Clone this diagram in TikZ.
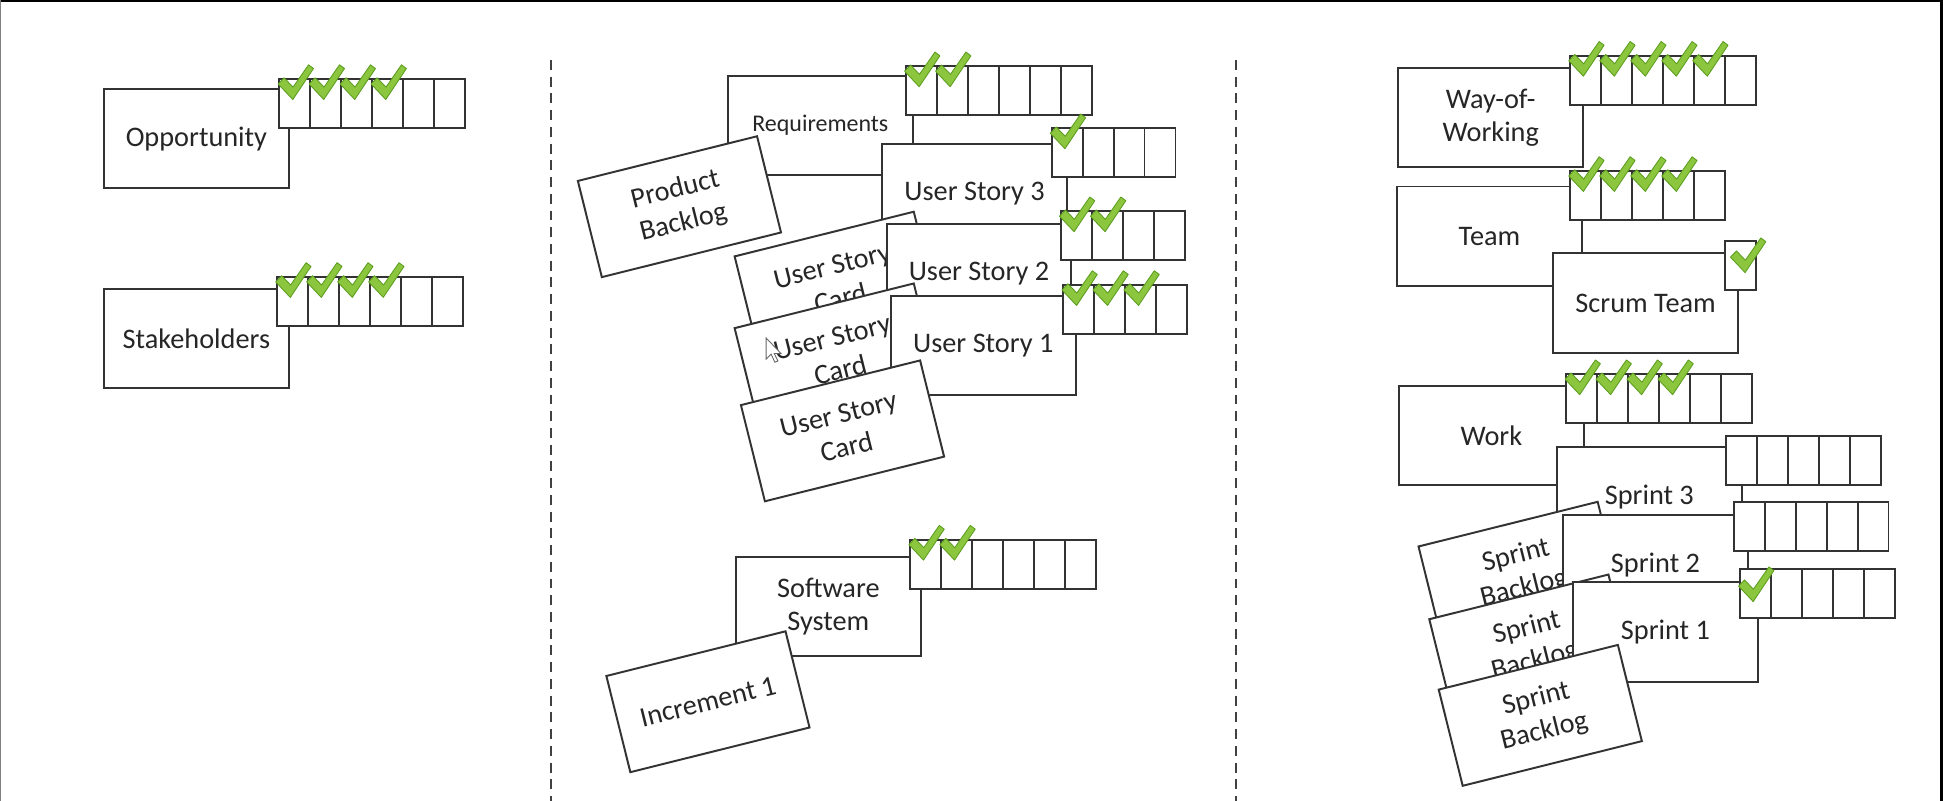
\documentclass[tikz,border=0pt]{standalone}
\usepackage{fontspec}
\setmainfont{Carlito}
\definecolor{chkgreen}{HTML}{8CC63F}
\definecolor{chkdark}{HTML}{5C9E1F}
\definecolor{linegray}{HTML}{333333}

% green tick, (#1,#2) is the top left corner of its cell
\newcommand{\chk}[2]{%
  \filldraw[check,shift={({#1},{#2})}] (3.8,-1) -- (11,6.5) -- (23.5,-11.5)
    -- (27.5,-8.5) -- (10.8,16.5) -- (-1,4) -- cycle;}
% row of #4 cells from (#2,#3), the first #5 ticked
\newcommand{\checklist}[5]{%
  \foreach \i in {1,...,#4}
    \node[cell] (#1-\i) at ({#2+(\i-0.5)*25},{#3+19.75}) {};
  \ifnum#5>0
    \foreach \i in {1,...,#5}
      \chk{#2+(\i-1)*25}{#3};
  \fi}

\begin{document}
\begin{tikzpicture}[
x=0.2mm, y=-0.2mm,
box/.style={
  draw=linegray,
  line width=0.9pt,
  fill=white,
  minimum width=29.8mm,
  minimum height=16mm,
  inner sep=1pt,
  align=center,
  text=black!85,
  font=\fontsize{13}{15.5}\selectfont
  },
card/.style={box, rotate=14},
cell/.style={
  draw=linegray,
  line width=0.9pt,
  fill=white,
  minimum width=5mm,
  minimum height=7.9mm,
  inner sep=0pt
  },
check/.style={fill=chkgreen, draw=chkdark, line width=0.4pt, line join=round},
divider/.style={draw=black!75, line width=0.3mm, dash pattern=on 1.6mm off 1.1mm}
]
\useasboundingbox (0,0) rectangle (1568,646);
\draw[line width=0.25mm] (0,0.6) -- (1568,0.6);
\draw[gray, line width=0.2mm] (0.5,0) -- (0.5,646);
\draw[line width=0.5mm] (1566.8,0) -- (1566.8,646);
\draw[divider] (444.6,48.4) -- (444.6,646);
\draw[divider] (997.5,48.4) -- (997.5,646);

% left column
\node[box] (opp) at (158.5,112) {Opportunity};
\checklist{oppc}{225.5}{63.8}{6}{4}
\node[box] (stk) at (158.5,273) {Stakeholders};
\checklist{stkc}{223.5}{223.5}{6}{4}

% middle column
\node[box, font=\fontsize{11}{13}\selectfont] (req) at (662,101) {Requirements};
\checklist{reqc}{731}{53.5}{6}{2}
\node[card] (pb) at (548.3,166.8) {Product\\Backlog};
\node[box] (us3) at (786.5,156.5) {User Story 3};
\checklist{us3c}{848.6}{103.5}{4}{1}
\node[card] (usc1) at (674.8,227.7) {User Story\\Card};
\node[box] (us2) at (790,221) {User Story 2};
\checklist{us2c}{856}{170.5}{4}{2}
\node[card] (usc2) at (674.8,285.6) {User Story\\Card};
\node[box] (us1) at (793.5,278.5) {User Story 1};
\checklist{us1c}{858}{230}{4}{3}
\node[card] (usc3) at (679.9,347.7) {User Story\\Card};
\filldraw[fill=white, draw=black!60, line width=0.4pt] (618.3,272.8) -- ++(0,17) -- ++(4,-4)
  -- ++(3,6.5) -- ++(2.5,-1) -- ++(-3,-6) -- ++(5.5,0) -- cycle;
\node[box] (sws) at (668.5,489.5) {Software\\System};
\checklist{swsc}{734.5}{435.5}{6}{2}
\node[card] (inc) at (571.3,566.3) {Increment 1};

% right column
\node[box] (wow) at (1203,95) {Way-of-\\Working};
\checklist{wowc}{1267}{45}{6}{5}
\node[box] (team) at (1202,190.5) {Team};
\checklist{teamc}{1267}{138}{5}{4}
\node[box] (scrum) at (1328,244.5) {Scrum Team};
\checklist{scrumc}{1392}{194.5}{1}{0}
\chk{1397.5}{203.5}
\node[box] (work) at (1203.5,351.7) {Work};
\checklist{workc}{1264}{302}{6}{4}
\node[box] (sp3) at (1331,401) {Sprint 3};
\checklist{sp3c}{1393}{352}{5}{0}
\node[card] (sb1) at (1226.7,461.8) {Sprint\\Backlog};
\node[box] (sp2) at (1336,455.6) {Sprint 2};
\checklist{sp2c}{1399}{405}{5}{0}
\node[card] (sb2) at (1235.4,520.5) {Sprint\\Backlog};
\node[box] (sp1) at (1344,510) {Sprint 1};
\checklist{sp1c}{1404}{459.5}{5}{0}
\chk{1404}{469}
\node[card] (sb3) at (1243,577.3) {Sprint\\Backlog};
\end{tikzpicture}
\end{document}
